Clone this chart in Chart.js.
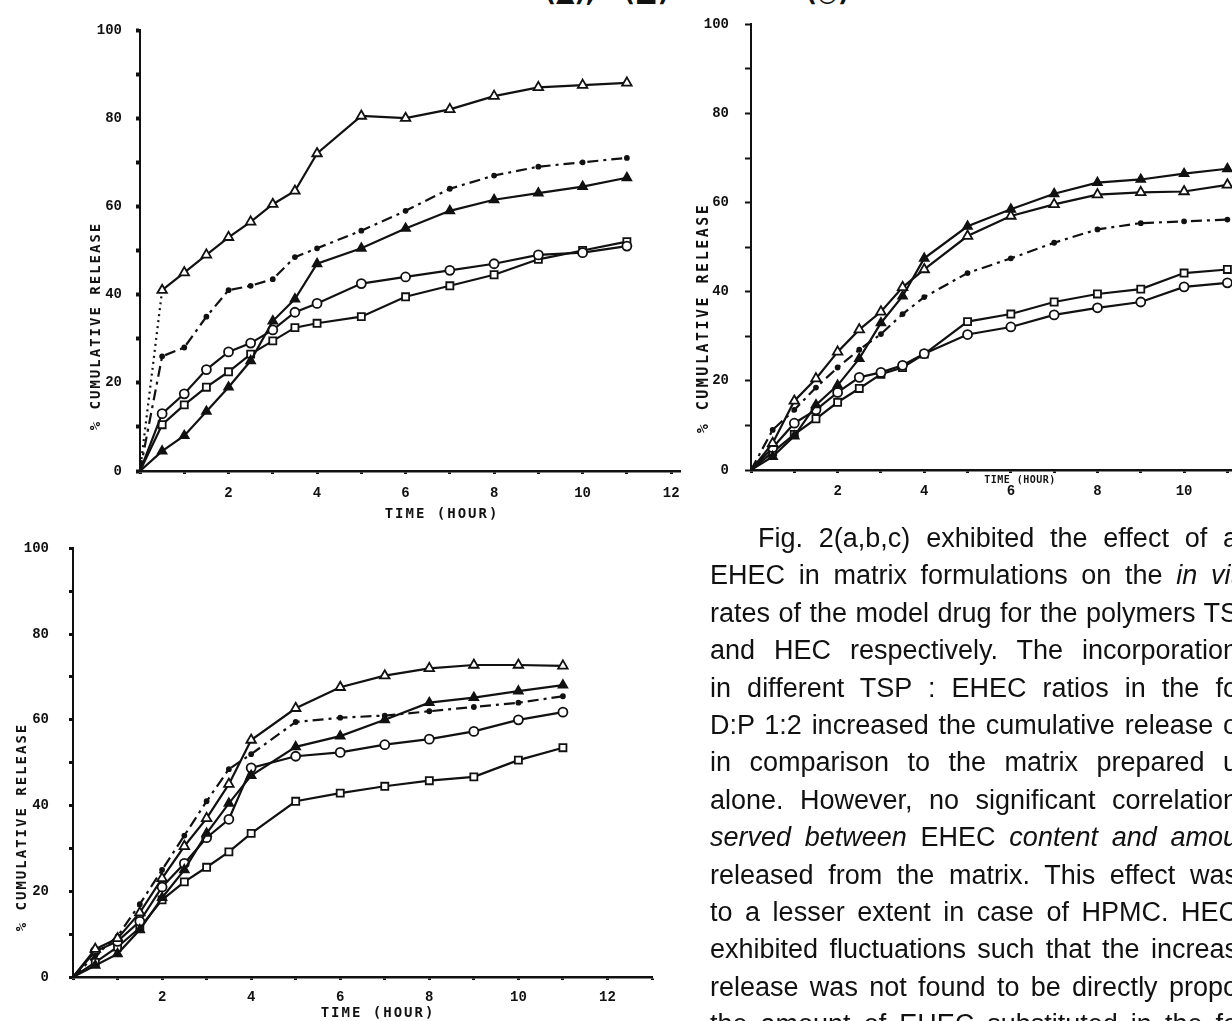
<!DOCTYPE html>
<html lang="en">
<head>
<meta charset="UTF-8">
<title>Fig. 2 - cumulative release</title>
<script src="https://cdn.jsdelivr.net/npm/chart.js@4.4.1/dist/chart.umd.min.js"></script>
<style>
    html, body { margin: 0; padding: 0; background: #fff; overflow: hidden; }
    #page { position: relative; width: 1232px; height: 1021px; overflow: hidden; background: #fff; }
    canvas { position: absolute; }
    #chartA { left: 0; top: 0; }
    #chartB { left: 690px; top: 0; }
    #chartC { left: 0; top: 520px; }
    .line {
        position: absolute;
        left: 710px;
        width: 528px;
        height: 31px;
        overflow: hidden;
        font-family: "Liberation Sans", Arial, sans-serif;
        font-size: 27px;
        line-height: 27px;
        color: #111;
        text-align: justify;
        text-align-last: justify;
    }
    .head { position: absolute; top: -19px; font: bold 24px "DejaVu Sans", sans-serif; color: #111; line-height: 24px; }
</style>
</head>
<body>
<div id="page">
    <div class="head" style="left:545px">(▲),</div>
    <div class="head" style="left:624px">(■)</div>
    <div class="head" style="left:806px">(○)</div>

    <canvas id="chartA" width="700" height="530"></canvas>
    <canvas id="chartB" width="700" height="520"></canvas>
    <canvas id="chartC" width="680" height="501"></canvas>

    <div class="line" style="top:525px; left:758px; width:480px">Fig. 2(a,b,c) exhibited the effect of a</div>
    <div class="line" style="top:562px">EHEC in matrix formulations on the <i>in vit</i></div>
    <div class="line" style="top:600px">rates of the model drug for the polymers TS</div>
    <div class="line" style="top:637px">and HEC respectively. The incorporation</div>
    <div class="line" style="top:675px">in different TSP : EHEC ratios in the fo</div>
    <div class="line" style="top:712px">D:P 1:2 increased the cumulative release o</div>
    <div class="line" style="top:749px">in comparison to the matrix prepared u</div>
    <div class="line" style="top:787px">alone. However, no significant correlation</div>
    <div class="line" style="top:824px"><i>served between</i> EHEC <i>content and amou</i></div>
    <div class="line" style="top:862px">released from the matrix. This effect was</div>
    <div class="line" style="top:899px">to a lesser extent in case of HPMC. HEC</div>
    <div class="line" style="top:936px">exhibited fluctuations such that the increas</div>
    <div class="line" style="top:974px">release was not found to be directly propo</div>
    <div class="line" style="top:1011px">the amount of EHEC substituted in the fo</div>
</div>

<script>
    // sampling times (hours), shared by all three panels
    const hours = [0, 0.5, 1, 1.5, 2, 2.5, 3, 3.5, 4, 5, 6, 7, 8, 9, 10, 11];

    // panel (a), top left
    const aOpenTri   = [0, 41, 45, 49, 53, 56.5, 60.5, 63.5, 72, 80.5, 80, 82, 85, 87, 87.5, 88];
    const aDashDot   = [0, 26, 28, 35, 41, 42, 43.5, 48.5, 50.5, 54.5, 59, 64, 67, 69, 70, 71];
    const aFilledTri = [0, 4.5, 8, 13.5, 19, 25, 34, 39, 47, 50.5, 55, 59, 61.5, 63, 64.5, 66.5];
    const aCircle    = [0, 13, 17.5, 23, 27, 29, 32, 36, 38, 42.5, 44, 45.5, 47, 49, 49.5, 51];
    const aSquare    = [0, 10.5, 15, 19, 22.5, 26.5, 29.5, 32.5, 33.5, 35, 39.5, 42, 44.5, 48, 50, 52];

    // panel (b), top right
    const bOpenTri   = [0, 6, 15.5, 20.5, 26.5, 31.5, 35.5, 41, 45, 52.5, 57, 59.6, 61.8, 62.3, 62.5, 64];
    const bDashDot   = [0, 9, 13.5, 18.5, 23, 27, 30.5, 35, 38.8, 44.2, 47.5, 51, 54, 55.4, 55.8, 56.2];
    const bFilledTri = [0, 3, 7.6, 14.6, 19, 25, 33, 39, 47.5, 54.7, 58.5, 62, 64.5, 65.2, 66.5, 67.6];
    const bCircle    = [0, 5, 10.5, 13.5, 17.4, 20.8, 21.9, 23.5, 26.1, 30.4, 32.1, 34.8, 36.4, 37.7, 41.1, 42];
    const bSquare    = [0, 4, 8, 11.5, 15.2, 18.3, 21.5, 23, 26, 33.3, 35, 37.7, 39.5, 40.6, 44.2, 45];

    // panel (c), bottom left
    const cOpenTri   = [0, 6.5, 9, 15, 23, 30.5, 37, 45, 55.3, 62.7, 67.6, 70.3, 72, 72.8, 72.8, 72.6];
    const cDashDot   = [0, 5, 9.5, 17, 25, 33, 41, 48.5, 52, 59.5, 60.5, 61, 62, 63, 64, 65.5];
    const cFilledTri = [0, 2.7, 5.4, 11, 18.5, 25, 33.5, 40.5, 47, 53.7, 56.2, 60, 64, 65.2, 66.7, 68.1];
    const cCircle    = [0, 6, 8.3, 13, 21, 26.5, 32.5, 36.8, 48.8, 51.5, 52.4, 54.2, 55.5, 57.3, 60, 61.8];
    const cSquare    = [0, 3.4, 7, 11.5, 18, 22.2, 25.6, 29.2, 33.5, 41, 42.9, 44.5, 45.8, 46.7, 50.6, 53.5];

    const yTickLabels = [0, 20, 40, 60, 80, 100];
    const xTickLabels = [2, 4, 6, 8, 10, 12];

    const ink = '#111';
    const tickFont = { family: 'Liberation Mono', weight: 'bold', size: 14 };

    // marker looks for the five formulations
    const markers = {
        openTri:   { pointStyle: 'triangle', r: 5.5, fill: '#fff' },
        filledTri: { pointStyle: 'triangle', r: 5,   fill: ink },
        circle:    { pointStyle: 'circle',   r: 4.5, fill: '#fff' },
        square:    { pointStyle: 'rect',     r: 5,   fill: '#fff' },
        dashDot:   { pointStyle: 'circle',   r: 2,   fill: ink, dash: [11, 5, 3, 5] }
    };

    function series(values, kind, extra) {
        const m = markers[kind];
        return Object.assign({
            data: hours.map((h, i) => ({ x: h, y: values[i] })),
            borderColor: ink,
            borderWidth: 2.2,
            borderDash: m.dash || [],
            pointStyle: m.pointStyle,
            pointRadius: c => c.dataIndex === 0 ? 0 : m.r,
            pointBackgroundColor: m.fill,
            pointBorderColor: ink,
            pointBorderWidth: 1.8,
            tension: 0,
            fill: false
        }, extra || {});
    }

    // draws the scanned axis titles where they sit in the figure
    const scanText = {
        id: 'scanText',
        afterDraw(chart, args, opts) {
            const ctx = chart.ctx;
            (opts.items || []).forEach(t => {
                ctx.save();
                ctx.font = t.font;
                ctx.fillStyle = ink;
                ctx.textAlign = 'center';
                ctx.textBaseline = 'middle';
                if ('letterSpacing' in ctx) ctx.letterSpacing = t.spacing || '0px';
                ctx.translate(t.x, t.y);
                if (t.rotate) ctx.rotate(-Math.PI / 2);
                ctx.fillText(t.text, 0, 0);
                ctx.restore();
            });
        }
    };

    function buildChart(id, datasets, box) {
        return new Chart(document.getElementById(id), {
            type: 'line',
            data: { datasets: datasets },
            plugins: [scanText],
            options: {
                responsive: false,
                animation: false,
                devicePixelRatio: 1,
                layout: { padding: { left: 0, top: box.top, right: box.right, bottom: 0 } },
                plugins: {
                    legend: { display: false },
                    tooltip: { enabled: false },
                    scanText: { items: box.titles }
                },
                scales: {
                    x: {
                        type: 'linear',
                        min: 0,
                        max: box.xMax,
                        afterFit: s => { s.height = box.xHeight; },
                        border: { display: true, color: ink, width: 2.5 },
                        grid: { drawOnChartArea: false, drawTicks: true, tickLength: 3, tickWidth: 3, color: ink },
                        ticks: {
                            stepSize: 1,
                            includeBounds: false,
                            autoSkip: false,
                            maxRotation: 0,
                            padding: box.xPad,
                            color: ink,
                            font: tickFont,
                            callback: v => xTickLabels.includes(v) ? String(v) : ''
                        }
                    },
                    y: {
                        min: 0,
                        max: 100,
                        afterFit: s => { s.width = box.yWidth; },
                        border: { display: true, color: ink, width: 2, dash: box.yDash },
                        grid: { drawOnChartArea: false, drawTicks: true, tickLength: box.yTick, tickWidth: box.yTickWidth, color: ink },
                        ticks: {
                            stepSize: 10,
                            autoSkip: false,
                            padding: box.yPad,
                            color: ink,
                            font: tickFont,
                            callback: v => yTickLabels.includes(v) ? String(v) : ''
                        }
                    }
                }
            }
        });
    }

    const yTitle = '% CUMULATIVE RELEASE';
    const xTitle = 'TIME (HOUR)';

    buildChart('chartA', [
        series(aOpenTri, 'openTri', { segment: { borderDash: c => c.p0DataIndex === 0 ? [2, 4] : undefined } }),
        series(aDashDot, 'dashDot'),
        series(aFilledTri, 'filledTri'),
        series(aCircle, 'circle'),
        series(aSquare, 'square')
    ], {
        top: 30, right: 20, xMax: 12.2, xHeight: 59, xPad: 11,
        yWidth: 140, yDash: [2, 3], yTick: 4, yTickWidth: 4, yPad: 14,
        titles: [
            { text: yTitle, x: 96, y: 326, rotate: true, font: 'bold 14px "DejaVu Sans Mono"', spacing: '2px' },
            { text: xTitle, x: 442, y: 514, font: 'bold 14px "DejaVu Sans Mono"', spacing: '2px' }
        ]
    });

    buildChart('chartB', [
        series(bOpenTri, 'openTri'),
        series(bDashDot, 'dashDot'),
        series(bFilledTri, 'filledTri'),
        series(bCircle, 'circle'),
        series(bSquare, 'square')
    ], {
        top: 22, right: 76, xMax: 13, xHeight: 50, xPad: 10,
        yWidth: 61, yDash: [], yTick: 6, yTickWidth: 2, yPad: 16,
        titles: [
            { text: yTitle, x: 14, y: 318, rotate: true, font: 'bold 15px "DejaVu Sans Mono"', spacing: '2.5px' },
            { text: xTitle, x: 330, y: 480, font: 'bold 10px "DejaVu Sans Mono"', spacing: '0.5px' }
        ]
    });

    buildChart('chartC', [
        series(cOpenTri, 'openTri'),
        series(cDashDot, 'dashDot'),
        series(cFilledTri, 'filledTri'),
        series(cCircle, 'circle'),
        series(cSquare, 'square')
    ], {
        top: 12, right: 28, xMax: 13, xHeight: 44, xPad: 9,
        yWidth: 73, yDash: [7, 3], yTick: 4, yTickWidth: 3, yPad: 20,
        titles: [
            { text: yTitle, x: 22, y: 307, rotate: true, font: 'bold 14px "DejaVu Sans Mono"', spacing: '2px' },
            { text: xTitle, x: 378, y: 493, font: 'bold 14px "DejaVu Sans Mono"', spacing: '2px' }
        ]
    });
</script>
</body>
</html>
